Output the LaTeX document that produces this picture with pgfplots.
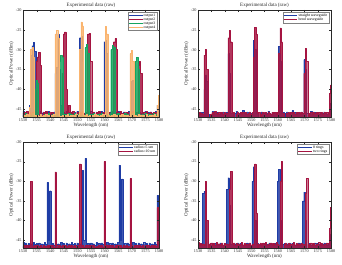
\documentclass[border=0pt]{standalone}
\usepackage{pgfplots}
\pgfplotsset{compat=1.18}
\usepackage{pgfplotstable}
\usepackage{fontspec}
\setmainfont{Liberation Serif}
\definecolor{cb}{RGB}{30,60,165}
\definecolor{cr}{RGB}{165,20,65}
\definecolor{cg}{RGB}{20,165,95}
\definecolor{co}{RGB}{250,180,110}
\definecolor{axc}{RGB}{40,40,40}

\pgfplotstableread{
x o1 o2 o3 o4
1530.0 -45.6 -46.0 -46.5 -46.8
1530.5 -46.1 -45.7 -47.5 -46.5
1531.0 -45.8 -46.2 -46.0 -46.9
1531.5 -46.3 -45.5 -46.6 -46.4
1532.0 -45.7 -46.1 -47.8 -46.8
1532.5 -44.0 -45.8 -46.2 -44.5
1533.0 -31.5 -46.3 -46.7 -30.0
1533.5 -29.0 -45.9 -46.1 -29.5
1534.0 -28.2 -46.4 -47.5 -32.0
1534.5 -30.5 -45.6 -40.0 -46.6
1535.0 -46.2 -33.0 -37.7 -46.9
1535.5 -45.9 -31.8 -38.5 -46.5
1536.0 -46.4 -30.7 -47.5 -46.8
1536.5 -45.6 -34.0 -46.3 -46.4
1537.0 -46.0 -46.5 -46.8 -46.9
1537.5 -45.7 -45.9 -47.6 -46.6
1538.0 -46.3 -46.2 -46.2 -46.8
1538.5 -45.8 -45.6 -47.8 -46.3
1539.0 -46.1 -46.0 -46.5 -46.9
1539.5 -45.5 -46.4 -46.0 -46.5
1540.0 -46.2 -45.7 -46.6 -46.8
1540.5 -45.9 -46.1 -47.3 -46.6
1541.0 -46.4 -45.8 -46.2 -46.9
1541.5 -45.7 -46.3 -46.7 -46.4
1542.0 -36.0 -45.9 -46.1 -26.0
1542.5 -34.5 -46.2 -47.5 -25.2
1543.0 -26.0 -45.6 -46.4 -27.0
1543.5 -35.0 -46.0 -33.0 -46.7
1544.0 -44.0 -46.5 -31.4 -46.9
1544.5 -46.3 -36.0 -32.0 -46.5
1545.0 -45.8 -26.0 -47.5 -46.8
1545.5 -46.1 -25.5 -46.2 -46.6
1546.0 -45.6 -40.0 -47.8 -46.9
1546.5 -46.2 -46.1 -46.5 -46.4
1547.0 -45.9 -44.0 -46.0 -46.8
1547.5 -46.4 -45.8 -46.7 -46.5
1548.0 -45.7 -46.2 -46.3 -46.9
1548.5 -46.0 -45.6 -46.8 -46.6
1549.0 -45.8 -46.0 -46.1 -46.8
1549.5 -46.3 -46.4 -46.6 -46.4
1550.0 -45.6 -45.7 -47.2 -46.9
1550.5 -46.1 -46.1 -46.2 -46.6
1551.0 -27.0 -45.9 -46.7 -30.0
1551.5 -26.7 -46.3 -47.6 -23.0
1552.0 -33.0 -45.6 -46.3 -24.0
1552.5 -46.2 -46.0 -46.8 -46.5
1553.0 -45.7 -46.4 -29.5 -46.8
1553.5 -46.0 -45.8 -28.7 -46.4
1554.0 -45.8 -26.0 -31.0 -46.9
1554.5 -46.3 -25.9 -47.5 -46.6
1555.0 -45.6 -33.0 -46.2 -46.8
1555.5 -46.1 -46.1 -46.7 -46.5
1556.0 -45.9 -45.7 -46.1 -46.9
1556.5 -46.4 -46.2 -46.6 -46.4
1557.0 -45.7 -45.9 -46.3 -46.8
1557.5 -46.0 -46.4 -46.8 -46.6
1558.0 -45.8 -45.6 -46.2 -46.9
1558.5 -46.2 -46.0 -46.6 -46.5
1559.0 -45.6 -46.3 -46.1 -46.8
1559.5 -46.1 -45.8 -46.7 -46.4
1560.0 -28.0 -46.1 -47.6 -46.9
1560.5 -27.6 -45.7 -46.3 -24.2
1561.0 -31.0 -46.2 -47.5 -26.0
1561.5 -46.3 -45.9 -46.5 -46.6
1562.0 -45.8 -46.4 -46.2 -46.8
1562.5 -46.1 -45.6 -30.0 -46.5
1563.0 -45.7 -46.0 -28.9 -46.9
1563.5 -46.0 -28.0 -29.5 -46.4
1564.0 -45.8 -27.2 -46.3 -46.8
1564.5 -46.4 -30.0 -47.5 -46.6
1565.0 -45.6 -45.8 -46.1 -46.9
1565.5 -46.2 -46.2 -47.6 -46.5
1566.0 -45.9 -45.6 -46.6 -46.8
1566.5 -46.3 -46.0 -46.2 -46.4
1567.0 -45.7 -46.4 -46.7 -46.9
1567.5 -46.0 -45.7 -46.1 -46.6
1568.0 -45.8 -46.1 -46.6 -46.8
1568.5 -46.2 -45.9 -46.3 -46.5
1569.0 -45.6 -46.3 -46.8 -46.9
1569.5 -46.1 -45.8 -46.2 -31.0
1570.0 -38.0 -46.2 -46.7 -30.1
1570.5 -37.7 -45.6 -46.1 -33.0
1571.0 -39.0 -46.0 -46.6 -46.8
1571.5 -46.2 -46.4 -33.0 -46.5
1572.0 -45.9 -45.7 -32.0 -46.9
1572.5 -46.3 -34.0 -35.0 -46.4
1573.0 -45.7 -33.0 -46.3 -46.8
1573.5 -46.0 -36.0 -46.8 -46.6
1574.0 -45.8 -46.1 -46.2 -46.9
1574.5 -46.2 -45.8 -46.7 -46.5
1575.0 -45.6 -46.2 -46.1 -46.8
1575.5 -46.1 -45.6 -46.6 -46.4
1576.0 -45.9 -46.0 -46.3 -46.9
1576.5 -46.4 -46.4 -46.8 -46.6
1577.0 -45.7 -45.7 -46.2 -46.8
1577.5 -46.0 -46.1 -46.6 -46.5
1578.0 -45.8 -45.9 -46.1 -46.9
1578.5 -46.3 -46.3 -46.7 -46.4
1579.0 -45.6 -45.8 -46.2 -46.8
1579.5 -44.0 -46.2 -46.6 -44.0
1580.0 -43.0 -45.7 -46.3 -41.5
}\tabA

\pgfplotstableread{
x s b
1530.0 -46.0 -46.3
1530.5 -46.2 -45.9
1531.0 -45.8 -46.2
1531.5 -46.1 -46.0
1532.0 -45.9 -46.3
1532.5 -40.0 -31.4
1533.0 -36.4 -30.0
1533.5 -38.0 -35.0
1534.0 -48.0 -48.0
1534.5 -46.3 -48.0
1535.0 -48.0 -46.2
1535.5 -45.6 -45.9
1536.0 -46.0 -46.2
1536.5 -45.7 -45.6
1537.0 -46.1 -46.0
1537.5 -45.8 -46.2
1538.0 -46.2 -45.8
1538.5 -45.9 -46.1
1539.0 -46.1 -45.9
1539.5 -45.7 -46.2
1540.0 -46.0 -45.8
1540.5 -46.2 -46.1
1541.0 -45.8 -46.0
1541.5 -31.0 -27.0
1542.0 -36.0 -25.2
1542.5 -46.0 -28.0
1543.0 -45.8 -46.1
1543.5 -48.0 -45.9
1544.0 -46.1 -48.0
1544.5 -45.5 -46.2
1545.0 -46.0 -45.7
1545.5 -46.2 -46.1
1546.0 -45.8 -45.9
1546.5 -46.1 -46.2
1547.0 -45.4 -45.8
1547.5 -46.0 -46.1
1548.0 -46.2 -45.9
1548.5 -45.7 -46.2
1549.0 -46.1 -46.0
1549.5 -45.8 -45.7
1550.0 -46.0 -46.2
1550.5 -45.9 -45.9
1551.0 -27.6 -32.0
1551.5 -30.0 -24.4
1552.0 -46.0 -26.0
1552.5 -45.8 -46.1
1553.0 -48.0 -45.9
1553.5 -46.1 -48.0
1554.0 -45.7 -46.2
1554.5 -46.0 -45.8
1555.0 -46.2 -46.1
1555.5 -45.8 -45.9
1556.0 -46.1 -46.2
1556.5 -45.5 -45.7
1557.0 -46.0 -46.0
1557.5 -46.2 -46.2
1558.0 -45.8 -45.8
1558.5 -46.1 -46.1
1559.0 -45.9 -45.9
1559.5 -46.2 -46.2
1560.0 -45.8 -45.8
1560.5 -29.1 -31.0
1561.0 -33.0 -24.5
1561.5 -46.0 -28.0
1562.0 -45.8 -46.1
1562.5 -48.0 -48.0
1563.0 -46.1 -48.0
1563.5 -45.7 -46.0
1564.0 -46.0 -45.8
1564.5 -46.2 -46.2
1565.0 -45.8 -45.9
1565.5 -45.4 -46.1
1566.0 -46.1 -45.8
1566.5 -45.9 -46.2
1567.0 -46.2 -45.9
1567.5 -45.8 -46.1
1568.0 -46.0 -45.8
1568.5 -46.1 -46.2
1569.0 -45.7 -45.9
1569.5 -46.0 -46.1
1570.0 -32.5 -36.0
1570.5 -35.0 -29.7
1571.0 -46.0 -33.0
1571.5 -48.0 -48.0
1572.0 -46.1 -46.0
1572.5 -45.6 -45.8
1573.0 -46.0 -46.2
1573.5 -46.2 -45.7
1574.0 -45.8 -46.1
1574.5 -46.1 -45.9
1575.0 -45.9 -46.2
1575.5 -46.2 -45.8
1576.0 -45.8 -46.1
1576.5 -46.0 -45.9
1577.0 -46.1 -46.2
1577.5 -45.7 -45.8
1578.0 -46.0 -46.1
1578.5 -46.2 -45.9
1579.0 -45.8 -46.2
1579.5 -44.0 -41.0
1580.0 -43.5 -38.9
}\tabB

\pgfplotstableread{
x a b
1530.0 -45.5 -46.6
1530.5 -46.0 -46.2
1531.0 -45.7 -46.8
1531.5 -46.2 -46.3
1532.0 -45.8 -46.7
1532.5 -46.1 -46.4
1533.0 -45.9 -30.1
1533.5 -46.3 -46.5
1534.0 -45.6 -46.8
1534.5 -46.0 -46.3
1535.0 -45.8 -46.7
1535.5 -46.2 -46.2
1536.0 -45.7 -46.6
1536.5 -46.1 -46.4
1537.0 -45.9 -46.8
1537.5 -46.3 -46.3
1538.0 -45.6 -46.7
1538.5 -46.0 -46.5
1539.0 -30.3 -46.2
1539.5 -45.0 -46.8
1540.0 -32.4 -46.4
1540.5 -46.1 -46.6
1541.0 -45.8 -46.3
1541.5 -46.2 -46.7
1542.0 -45.7 -27.6
1542.5 -46.0 -46.4
1543.0 -45.9 -46.8
1543.5 -46.3 -46.2
1544.0 -45.6 -46.6
1544.5 -46.1 -46.4
1545.0 -45.8 -46.7
1545.5 -46.2 -46.3
1546.0 -45.7 -46.8
1546.5 -46.0 -46.5
1547.0 -45.9 -46.2
1547.5 -46.3 -46.7
1548.0 -45.6 -46.4
1548.5 -46.1 -46.6
1549.0 -45.8 -46.3
1549.5 -46.2 -46.8
1550.0 -45.7 -46.4
1550.5 -46.0 -46.6
1551.0 -45.9 -25.6
1551.5 -46.3 -46.5
1552.0 -27.2 -46.2
1552.5 -45.0 -46.7
1553.0 -24.2 -46.4
1553.5 -46.1 -46.6
1554.0 -45.8 -46.3
1554.5 -46.2 -46.8
1555.0 -45.7 -46.4
1555.5 -46.0 -46.6
1556.0 -45.9 -46.2
1556.5 -46.3 -46.7
1557.0 -45.6 -46.5
1557.5 -46.1 -46.8
1558.0 -45.8 -46.3
1558.5 -46.2 -46.6
1559.0 -45.7 -46.4
1559.5 -46.0 -46.7
1560.0 -45.9 -25.0
1560.5 -46.3 -46.5
1561.0 -45.6 -46.2
1561.5 -46.1 -46.8
1562.0 -45.8 -46.4
1562.5 -46.2 -46.6
1563.0 -45.7 -46.3
1563.5 -46.0 -46.7
1564.0 -45.9 -46.4
1564.5 -46.3 -46.8
1565.0 -45.6 -46.2
1565.5 -25.9 -46.6
1566.0 -45.0 -46.4
1566.5 -29.4 -46.7
1567.0 -46.1 -46.3
1567.5 -45.8 -46.6
1568.0 -46.2 -46.4
1568.5 -45.7 -46.8
1569.0 -46.0 -46.5
1569.5 -45.9 -29.3
1570.0 -46.3 -46.4
1570.5 -45.6 -46.7
1571.0 -46.1 -46.3
1571.5 -45.8 -46.6
1572.0 -46.2 -46.4
1572.5 -45.7 -46.8
1573.0 -46.0 -46.2
1573.5 -45.9 -46.6
1574.0 -46.3 -46.4
1574.5 -45.6 -46.7
1575.0 -46.1 -46.3
1575.5 -45.8 -46.6
1576.0 -46.2 -46.4
1576.5 -45.7 -46.8
1577.0 -46.0 -46.5
1577.5 -45.9 -46.3
1578.0 -46.3 -46.7
1578.5 -45.6 -46.4
1579.0 -46.1 -46.6
1579.5 -33.6 -36.7
1580.0 -38.0 -40.0
}\tabC

\pgfplotstableread{
x a b
1530.0 -46.0 -45.6
1530.5 -46.3 -46.2
1531.0 -45.8 -45.8
1531.5 -46.1 -46.3
1532.0 -33.0 -45.9
1532.5 -32.6 -46.2
1533.0 -40.0 -30.1
1533.5 -48.0 -40.0
1534.0 -46.2 -48.0
1534.5 -45.9 -46.1
1535.0 -46.3 -45.7
1535.5 -45.7 -46.2
1536.0 -46.1 -45.8
1536.5 -45.8 -46.3
1537.0 -46.2 -45.6
1537.5 -45.9 -46.1
1538.0 -46.3 -45.9
1538.5 -45.7 -46.2
1539.0 -46.0 -45.7
1539.5 -46.2 -46.3
1540.0 -45.8 -45.8
1540.5 -46.1 -46.1
1541.0 -32.0 -45.9
1541.5 -29.1 -46.2
1542.0 -36.0 -32.0
1542.5 -46.0 -27.4
1543.0 -45.8 -46.0
1543.5 -46.2 -45.7
1544.0 -45.9 -46.2
1544.5 -46.1 -45.8
1545.0 -45.7 -46.3
1545.5 -46.3 -45.9
1546.0 -45.8 -46.1
1546.5 -46.1 -45.6
1547.0 -46.2 -46.2
1547.5 -45.9 -45.8
1548.0 -46.0 -46.3
1548.5 -45.7 -45.9
1549.0 -46.2 -46.1
1549.5 -45.8 -45.7
1550.0 -48.0 -46.2
1550.5 -30.0 -46.1
1551.0 -26.3 -45.9
1551.5 -40.0 -25.6
1552.0 -46.0 -38.0
1552.5 -45.8 -48.0
1553.0 -46.2 -46.0
1553.5 -45.9 -45.7
1554.0 -46.1 -46.2
1554.5 -45.7 -45.8
1555.0 -46.3 -46.1
1555.5 -45.8 -45.6
1556.0 -46.0 -46.3
1556.5 -46.2 -45.9
1557.0 -45.7 -46.1
1557.5 -46.1 -45.7
1558.0 -45.9 -46.2
1558.5 -46.3 -45.8
1559.0 -45.8 -46.0
1559.5 -46.0 -45.6
1560.0 -30.0 -46.0
1560.5 -26.9 -46.2
1561.0 -40.0 -30.0
1561.5 -48.0 -25.0
1562.0 -46.1 -48.0
1562.5 -45.8 -46.1
1563.0 -46.2 -45.7
1563.5 -45.9 -46.2
1564.0 -46.0 -45.8
1564.5 -45.7 -46.3
1565.0 -46.3 -45.9
1565.5 -45.8 -46.1
1566.0 -46.1 -45.6
1566.5 -46.2 -46.2
1567.0 -45.9 -45.8
1567.5 -46.0 -46.3
1568.0 -45.7 -45.9
1568.5 -46.2 -46.1
1569.0 -45.8 -45.7
1569.5 -35.0 -46.0
1570.0 -32.8 -46.2
1570.5 -40.0 -33.0
1571.0 -48.0 -29.3
1571.5 -46.1 -48.0
1572.0 -45.8 -46.0
1572.5 -46.2 -45.7
1573.0 -45.9 -46.2
1573.5 -46.1 -45.8
1574.0 -45.7 -46.3
1574.5 -46.3 -45.9
1575.0 -45.8 -46.1
1575.5 -46.0 -45.6
1576.0 -46.2 -46.2
1576.5 -45.9 -45.8
1577.0 -46.1 -46.3
1577.5 -45.7 -45.9
1578.0 -46.0 -46.1
1578.5 -46.2 -45.7
1579.0 -46.0 -45.8
1579.5 -43.5 -42.0
1580.0 -45.0 -36.7
}\tabD

\pgfplotsset{
  myax/.style={
    scale only axis,
    anchor=south west,
    xmin=1530, xmax=1580, ymin=-47, ymax=-20,
    xtick={1530,1535,...,1580},
    ytick={-45,-40,...,-20},
    /pgf/number format/assume math mode=true,
    /pgf/number format/1000 sep={},
    axis line style={axc},
    tick style={axc},
    tick align=inside,
    axis on top,
    title={Experimental data (raw)},
    xlabel={Wavelength (nm)},
    ylabel={Optical Power (dBm)},
    tick label style={font=\fontsize{10.5}{12}\selectfont, text=axc},
    label style={font=\fontsize{12.5}{14}\selectfont, text=axc},
    title style={font=\fontsize{12.5}{14}\selectfont, text=axc, yshift=-4pt},
    xlabel style={yshift=3pt},
    ylabel style={yshift=-1pt},
    legend cell align=left,
    legend style={font=\fontsize{9.5}{11}\selectfont, at={(0.985,0.98)}, anchor=north east, draw=gray, row sep=-2pt, inner sep=2pt},
    legend image code/.code={\draw[#1, line width=1.8pt, opacity=1] (0pt,0pt) -- (34pt,0pt);},
    every axis plot/.append style={line width=0.8pt, const plot mark mid, line join=round},
  }
}
% one series: colour, table, column
\newcommand\ser[3]{%
  \addplot[draw=none, fill=#1, fill opacity=0.85, forget plot] table[x=x,y=#3] {#2} -- (1580,-48) -- (1530,-48) -- cycle;
  \addplot[#1] table[x=x,y=#3] {#2};
}

\begin{document}
\begin{tikzpicture}
\path (0,0) rectangle (855pt,662.5pt);

\begin{axis}[myax, at={(57.5pt,370pt)}, width=340pt, height=267.5pt]
\ser{cb}{\tabA}{o1}
\ser{cr}{\tabA}{o2}
\ser{cg}{\tabA}{o3}
\ser{co}{\tabA}{o4}
\legend{output1,output2,output3,output4}
\end{axis}

\begin{axis}[myax, at={(495pt,370pt)}, width=332.5pt, height=267.5pt]
\ser{cb}{\tabB}{s}
\ser{cr}{\tabB}{b}
\legend{straight waveguide,bend waveguide}
\end{axis}

\begin{axis}[myax, at={(57.5pt,42.5pt)}, width=340pt, height=265pt]
\ser{cb}{\tabC}{a}
\ser{cr}{\tabC}{b}
\legend{radius=5 um,radius=10 um}
\end{axis}

\begin{axis}[myax, at={(495pt,42.5pt)}, width=332.5pt, height=265pt]
\ser{cb}{\tabD}{a}
\ser{cr}{\tabD}{b}
\legend{8 rings,two rings}
\end{axis}
\end{tikzpicture}
\end{document}
